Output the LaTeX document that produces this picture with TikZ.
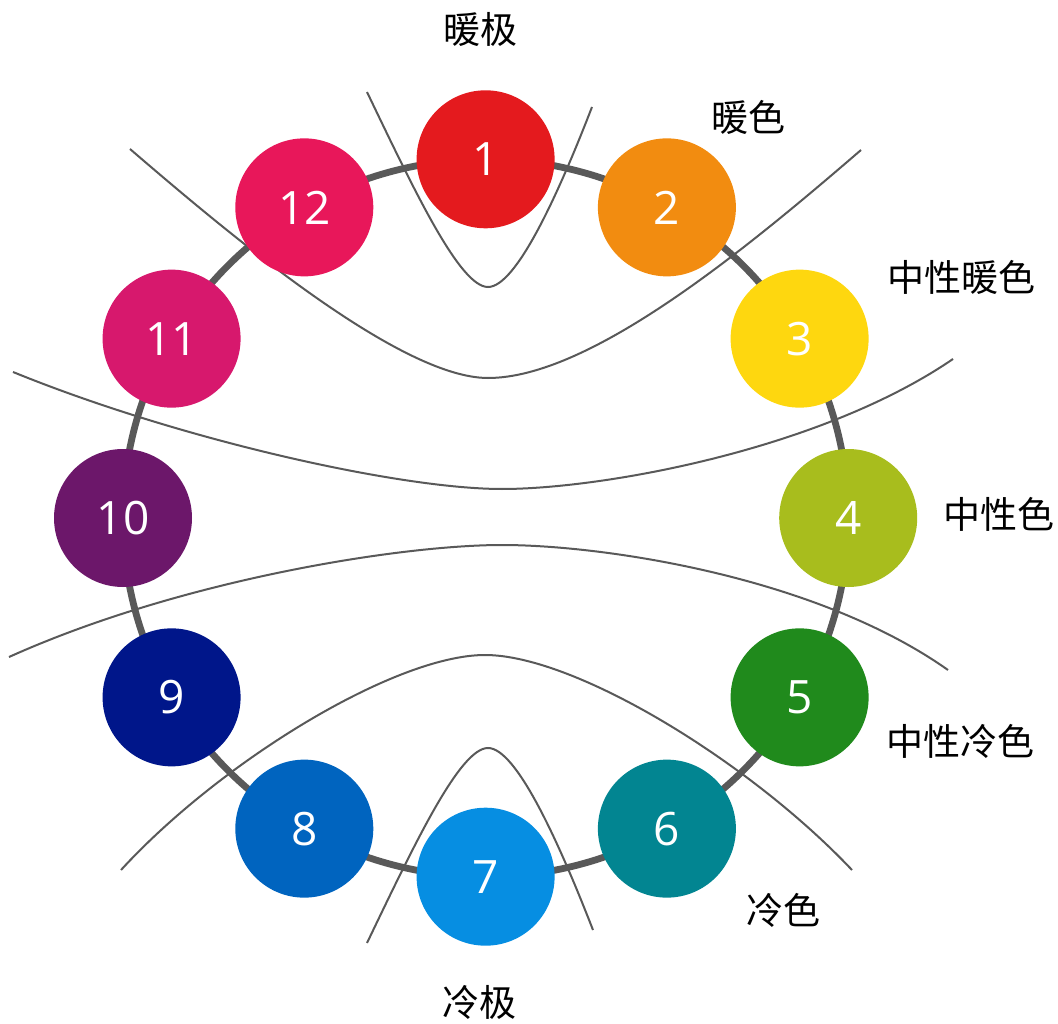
\documentclass[tikz,border=0pt]{standalone}
\usepackage{fontspec}
\setmainfont{Open Sans}
\newfontfamily\cjk{Noto Sans CJK SC}
\definecolor{linegray}{HTML}{595959}
\definecolor{c1}{HTML}{E41A1E}
\definecolor{c2}{HTML}{F28C10}
\definecolor{c3}{HTML}{FED70F}
\definecolor{c4}{HTML}{A8BD1D}
\definecolor{c5}{HTML}{208A1C}
\definecolor{c6}{HTML}{028591}
\definecolor{c7}{HTML}{068EE2}
\definecolor{c8}{HTML}{0064BF}
\definecolor{c9}{HTML}{00168A}
\definecolor{c10}{HTML}{6C176A}
\definecolor{c11}{HTML}{D7186D}
\definecolor{c12}{HTML}{E8175A}
\begin{document}
\begin{tikzpicture}[x=1pt,y=-1pt,
  ringline/.style={draw=linegray, line width=6.8pt},
  thinline/.style={draw=linegray, line width=2pt},
  ball/.style={circle, minimum size=138pt, inner sep=0pt, text=white,
    font=\fontsize{46}{50}\selectfont},
  lbl/.style={font=\cjk\fontsize{37}{40}\selectfont, text=black, inner sep=0pt}]
\useasboundingbox (0,0) rectangle (1058,1024);
% ring
\coordinate (ctr) at (485.6,518);
\draw[ringline] (ctr) ellipse [x radius=362.6pt, y radius=358.7pt];
% warm pole
\draw[thinline] (367,92) .. controls (415,192) and (460,287) .. (488,287)
  .. controls (516,287) and (558,195) .. (592,107);
% warm colour
\draw[thinline] (130,149) .. controls (230,235) and (400,378) .. (488,378)
  .. controls (590,378) and (745,250) .. (861,150);
% neutral warm
\draw[thinline] (13,372) .. controls (180,440) and (400,489) .. (502,489)
  .. controls (602,489) and (820,450) .. (953,359);
% neutral cool
\draw[thinline] (9,657) .. controls (180,580) and (400,545) .. (502,545)
  .. controls (602,545) and (815,576) .. (948,670);
% cool colour
\draw[thinline] (121,870) .. controls (220,762) and (395,655) .. (485,655)
  .. controls (575,655) and (750,762) .. (852,870);
% cool pole
\draw[thinline] (367,943) .. controls (415,843) and (460,748) .. (488,748)
  .. controls (516,748) and (558,840) .. (593,930);
% balls
\foreach \i in {1,...,12} {
  \pgfmathsetmacro\ang{90-30*(\i-1)}
  \node[ball, fill=c\i] (n\i) at ({485.6+362.6*cos(\ang)}, {518-358.7*sin(\ang)}) {\i};
}
% labels
\node[lbl] (l1) at (480,29) {暖极};
\node[lbl] (l2) at (748,117) {暖色};
\node[lbl] (l3) at (961,277) {中性暖色};
\node[lbl] (l4) at (999,514) {中性色};
\node[lbl] (l5) at (960,741) {中性冷色};
\node[lbl] (l6) at (783,910) {冷色};
\node[lbl] (l7) at (479,1002) {冷极};
\end{tikzpicture}
\end{document}
